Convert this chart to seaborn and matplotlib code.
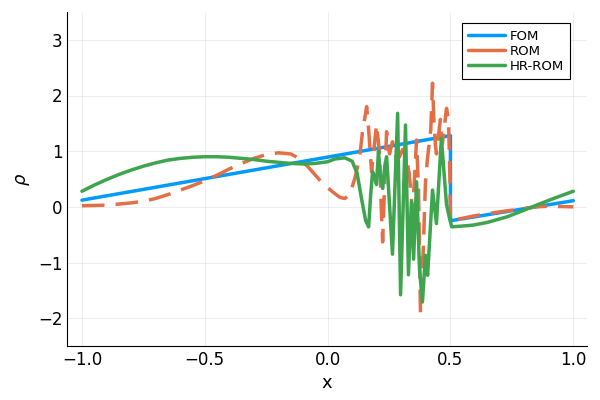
import numpy as np
import pandas as pd
import matplotlib
matplotlib.use('Agg')
import matplotlib.pyplot as plt
import seaborn as sns

# Dados
fom_x = [-1.0, 0.5, 0.5, 1.0]
fom_y = [0.12, 1.28, -0.25, 0.11]

rom_x = [-1.0, -0.9, -0.8, -0.75, -0.7, -0.65, -0.6, -0.55, -0.5, -0.45, -0.4, -0.35,
         -0.3, -0.25, -0.2, -0.15, -0.12, -0.08, -0.05, -0.02, 0.02, 0.05, 0.07, 0.09,
         0.11, 0.13, 0.142, 0.159, 0.167, 0.179, 0.199, 0.211, 0.218,
         0.224, 0.232, 0.24, 0.252, 0.264, 0.28, 0.293, 0.305, 0.32, 0.332, 0.346, 0.362,
         0.37, 0.378, 0.39, 0.398, 0.406, 0.42, 0.427, 0.432, 0.439, 0.443, 0.459, 0.467,
         0.484, 0.492, 0.498, 0.5, 0.6, 0.7, 0.8, 0.85, 0.9, 1.0]
rom_y = [0.02, 0.03, 0.07, 0.1, 0.15, 0.22, 0.3, 0.38, 0.47, 0.57, 0.68, 0.78,
         0.87, 0.94, 0.97, 0.95, 0.88, 0.72, 0.57, 0.42, 0.27, 0.17, 0.15, 0.22,
         0.5, 0.87, 1.35, 1.8, 1.39, 0.63, 1.48, 0.99, 0.03,
         -0.63, 0.4, 1.35, 0.95, 1.17, 0.85, 0.9, 1.03, 0.9, 0.6, -0.1, 1.2,
         0.3, -1.9, -0.7, 0.41, 0.85, 1.39, 2.22, 1.6, 1.1, 0.95, 1.57, 1.13,
         1.77, 1.57, 0.5, -0.25, -0.16, -0.09, -0.03, 0.0, 0.01, 0.0]

hr_x = [-1.0, -0.95, -0.9, -0.85, -0.8, -0.75, -0.7, -0.65, -0.6, -0.55, -0.5, -0.45,
        -0.4, -0.35, -0.3, -0.25, -0.2, -0.15, -0.1, -0.05, 0.0, 0.03, 0.07,
        0.1, 0.12, 0.14, 0.155, 0.167, 0.175, 0.183, 0.19, 0.199, 0.207, 0.215, 0.224,
        0.232, 0.24, 0.244, 0.264, 0.285, 0.297, 0.317, 0.329, 0.341, 0.35, 0.362, 0.374,
        0.386, 0.398, 0.407, 0.427, 0.443, 0.463, 0.484, 0.496, 0.505, 0.59, 0.65, 0.73,
        0.8, 0.85, 0.92, 1.0]
hr_y = [0.28, 0.39, 0.49, 0.58, 0.66, 0.73, 0.79, 0.84, 0.87, 0.89, 0.9, 0.9,
        0.89, 0.87, 0.85, 0.82, 0.8, 0.78, 0.77, 0.78, 0.81, 0.86, 0.88,
        0.82, 0.6, 0.1, -0.25, -0.36, 0.2, 0.63, 0.55, 0.4, 1.0, 0.55, 0.33,
        0.7, 0.9, 0.63, -0.85, 1.68, -1.58, 1.47, -1.22, 0.09, -0.94, 0.45, -1.12,
        -1.71, -0.87, -1.23, 0.3, -0.3, 1.23, 0.04, -0.2, -0.36, -0.33, -0.28, -0.18,
        -0.06, 0.03, 0.15, 0.28]

sns.set_style('white')
plt.rcParams['font.family'] = ['DejaVu Sans']
plt.rcParams['text.color'] = 'black'
plt.rcParams['axes.labelcolor'] = 'black'

fig = plt.figure(figsize=(6, 4), dpi=100)
ax = fig.add_axes([0.112, 0.135, 0.866, 0.835])

sns.lineplot(x=fom_x, y=fom_y, sort=False, estimator=None, color='#009AFA', lw=2.5, label='FOM', ax=ax)
sns.lineplot(x=rom_x, y=rom_y, sort=False, estimator=None, color='#E36F47', lw=2.5, label='ROM', ax=ax)
ax.lines[-1].set_dashes((6.5, 3.2))
sns.lineplot(x=hr_x, y=hr_y, sort=False, estimator=None, color='#3EA44E', lw=2.5, label='HR-ROM', ax=ax)

ax.set_xlim(-1.06, 1.055)
ax.set_ylim(-2.5, 3.5)
ax.set_xticks([-1.0, -0.5, 0.0, 0.5, 1.0])
ax.set_yticks([-2, -1, 0, 1, 2, 3])
ax.set_xticklabels(['\u22121.0', '\u22120.5', '0.0', '0.5', '1.0'])
ax.set_yticklabels(['\u22122', '\u22121', '0', '1', '2', '3'])
ax.tick_params(direction='in', length=4, width=0.8, labelsize=12, colors='black')
ax.grid(True, color='black', alpha=0.08, lw=0.6)
sns.despine(ax=ax)
for s in ['left', 'bottom']:
    ax.spines[s].set_color('black')
    ax.spines[s].set_linewidth(0.8)

ax.set_xlabel('x', fontsize=13)
ax.set_ylabel(r'$\rho$', fontsize=13)

leg = ax.legend(loc='upper right', bbox_to_anchor=(0.968, 0.967), borderaxespad=0,
                fontsize=9.5, fancybox=False, framealpha=1, edgecolor='black',
                handlelength=2.8, handletextpad=0.3, labelspacing=0.15, borderpad=0.5)
leg.get_frame().set_linewidth(0.8)
for h in leg.get_lines():
    h.set_linestyle('-')
for t in leg.get_texts():
    t.set_color('black')

fig.savefig('out.png', dpi=100)
